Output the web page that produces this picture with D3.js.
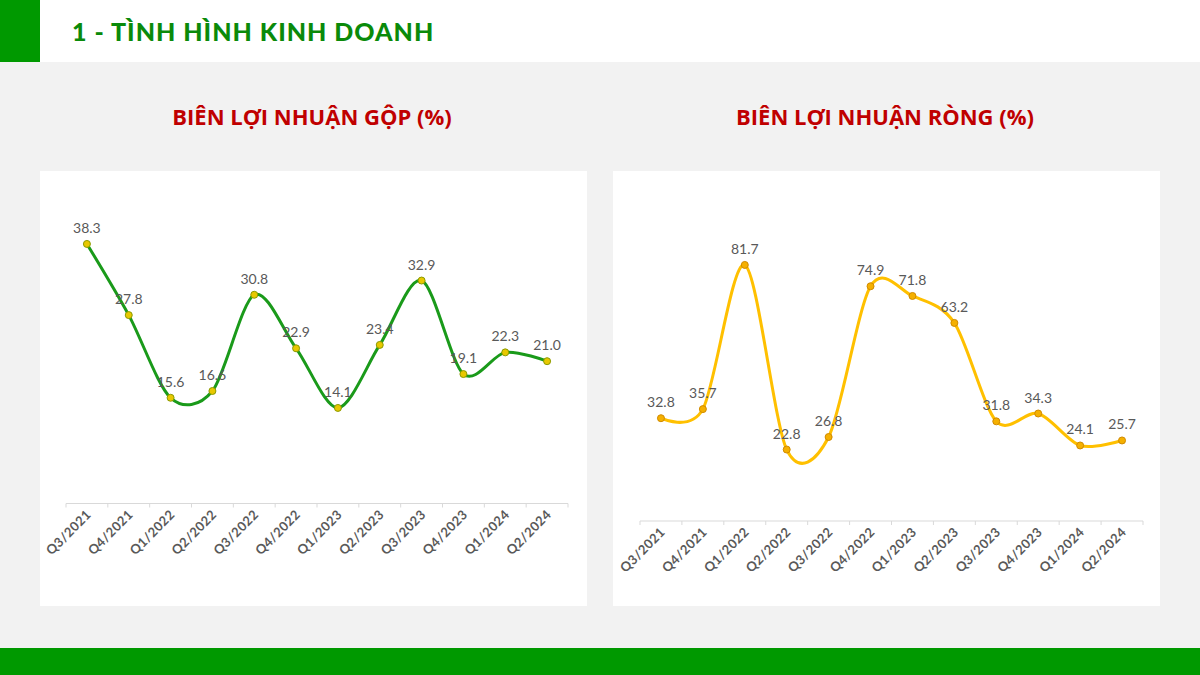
<!DOCTYPE html>
<html lang="vi">
<head>
<meta charset="utf-8">
<title>Tình hình kinh doanh</title>
<script src="https://cdn.jsdelivr.net/npm/d3@7"></script>
<style>
  body { margin: 0; background: #f2f2f2; }
  svg { display: block; }
</style>
</head>
<body>
<div id="chart"></div>
<script>
// categories and series values
var quarters = ["Q3/2021", "Q4/2021", "Q1/2022", "Q2/2022", "Q3/2022", "Q4/2022",
                "Q1/2023", "Q2/2023", "Q3/2023", "Q4/2023", "Q1/2024", "Q2/2024"];
var grossMargin = [38.3, 27.8, 15.6, 16.6, 30.8, 22.9, 14.1, 23.4, 32.9, 19.1, 22.3, 21.0];
var netMargin = [32.8, 35.7, 81.7, 22.8, 26.8, 74.9, 71.8, 63.2, 31.8, 34.3, 24.1, 25.7];

var W = 1200, H = 675;
var svg = d3.select("#chart").append("svg")
    .attr("width", W).attr("height", H);

// background + header
svg.append("rect").attr("width", W).attr("height", H).attr("fill", "#f2f2f2");
svg.append("rect").attr("width", W).attr("height", 62).attr("fill", "#ffffff");
svg.append("rect").attr("width", 40).attr("height", 62).attr("fill", "#009900");
svg.append("rect").attr("y", 648).attr("width", W).attr("height", 27).attr("fill", "#009900");
svg.append("text")
    .attr("x", 72).attr("y", 41)
    .attr("font-family", "Lato, 'Open Sans', sans-serif")
    .attr("font-weight", 900)
    .attr("font-size", 25)
    .attr("letter-spacing", 1)
    .attr("fill", "#0a8a0a")
    .text("1 - TÌNH HÌNH KINH DOANH");

function drawPanel(opt) {
    // titles
    svg.append("text")
        .attr("x", opt.cx).attr("y", 125)
        .attr("text-anchor", "middle")
        .attr("font-family", "'Open Sans', sans-serif")
        .attr("font-weight", 700)
        .attr("font-size", 22)
        .attr("fill", "#c00000")
        .text(opt.title);

    svg.append("rect")
        .attr("x", opt.px).attr("y", 171)
        .attr("width", 547).attr("height", 435)
        .attr("fill", "#ffffff");

    var x = d3.scaleBand().domain(quarters).range([opt.x0, opt.x1]);
    var y = d3.scaleLinear().domain([0, opt.ymax]).range([opt.y0, opt.y0 - opt.ymax * opt.k]);

    // x axis
    var g = svg.append("g").attr("transform", "translate(0," + opt.y0 + ")");
    g.append("line").attr("x1", opt.x0).attr("x2", opt.x1)
        .attr("stroke", "#d9d9d9").attr("stroke-width", 1);
    var ticks = d3.range(quarters.length + 1).map(function (i) { return opt.x0 + i * x.step(); });
    g.selectAll(".tick").data(ticks).enter().append("line")
        .attr("x1", function (d) { return d; }).attr("x2", function (d) { return d; })
        .attr("y1", 0).attr("y2", 4)
        .attr("stroke", "#d9d9d9");
    g.selectAll(".xlab").data(quarters).enter().append("text")
        .attr("transform", function (d) {
            return "translate(" + (x(d) + x.bandwidth() / 2 + 5) + ",12) rotate(-45)";
        })
        .attr("text-anchor", "end")
        .attr("font-family", "Lato, 'Open Sans', sans-serif")
        .attr("font-weight", 700)
        .attr("font-size", 13)
        .attr("letter-spacing", 0.4)
        .attr("fill", "#595959")
        .text(function (d) { return d; });

    var line = d3.line()
        .x(function (d, i) { return x(quarters[i]) + x.bandwidth() / 2; })
        .y(function (d) { return y(d); })
        .curve(d3.curveCardinal.tension(0.1));

    svg.append("path").datum(opt.values)
        .attr("d", line)
        .attr("fill", "none")
        .attr("stroke", opt.color)
        .attr("stroke-width", 3);

    svg.selectAll(null).data(opt.values).enter().append("circle")
        .attr("cx", function (d, i) { return x(quarters[i]) + x.bandwidth() / 2; })
        .attr("cy", function (d) { return y(d); })
        .attr("r", 3.5)
        .attr("fill", opt.marker)
        .attr("stroke", opt.markerStroke)
        .attr("stroke-width", 1);

    svg.selectAll(null).data(opt.values).enter().append("text")
        .attr("x", function (d, i) { return x(quarters[i]) + x.bandwidth() / 2; })
        .attr("y", function (d) { return y(d) - 11; })
        .attr("text-anchor", "middle")
        .attr("font-family", "Lato, 'Open Sans', sans-serif")
        .attr("font-size", 14)
        .attr("fill", "#595959")
        .text(function (d) { return d.toFixed(1); });
}

drawPanel({
    title: "BIÊN LỢI NHUẬN GỘP (%)", cx: 312, px: 40,
    x0: 66, x1: 568, y0: 503.5, k: 6.777, ymax: 45,
    values: grossMargin, color: "#1a9a1a", marker: "#e8c800", markerStroke: "#8a9a00"
});

drawPanel({
    title: "BIÊN LỢI NHUẬN RÒNG (%)", cx: 885, px: 613,
    x0: 640, x1: 1143, y0: 521, k: 3.134, ymax: 90,
    values: netMargin, color: "#ffc000", marker: "#f5b000", markerStroke: "#d08a00"
});
</script>
</body>
</html>
